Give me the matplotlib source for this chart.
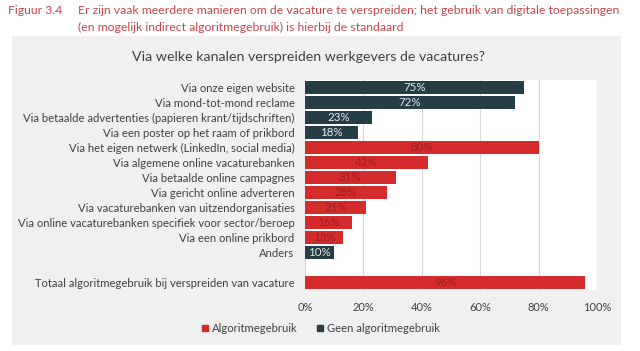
import matplotlib
matplotlib.use("Agg")
import matplotlib.pyplot as plt
from matplotlib.patches import Rectangle
from matplotlib.lines import Line2D

plt.rcParams['font.family'] = ['Lato', 'DejaVu Sans']

categories = [
    "Via onze eigen website",
    "Via mond-tot-mond reclame",
    "Via betaalde advertenties (papieren krant/tijdschriften)",
    "Via een poster op het raam of prikbord",
    "Via het eigen netwerk (LinkedIn, social media)",
    "Via algemene online vacaturebanken",
    "Via betaalde online campagnes",
    "Via gericht online adverteren",
    "Via vacaturebanken van uitzendorganisaties",
    "Via online vacaturebanken specifiek voor sector/beroep",
    "Via een online prikbord",
    "Anders",
    "",
    "Totaal algoritmegebruik bij verspreiden van vacature",
]
values = [75, 72, 23, 18, 80, 42, 31, 28, 21, 16, 13, 10, None, 96]
algo = [False, False, False, False, True, True, True, True, True, True, True, False, None, True]
xticks = [0, 20, 40, 60, 80, 100]
legend_labels = ["Algoritmegebruik", "Geen algoritmegebruik"]

RED = "#d42b2c"
DARK = "#253d45"
W, H = 640, 351
fig = plt.figure(figsize=(6.4, 3.51), dpi=100)
fig.patch.set_facecolor("white")

# grey panel
fig.patches.append(Rectangle((12 / W, 1 - 345 / H), (621 - 12) / W, (345 - 36) / H,
                             transform=fig.transFigure, facecolor="#f0f0f0",
                             edgecolor="none", zorder=-5))

# header
hc = "#c9464b"
fig.text(8 / W, 1 - 11 / H, "Figuur 3.4", color=hc, fontsize=8.8, va="center", ha="left")
fig.text(78 / W, 1 - 11 / H,
         "Er zijn vaak meerdere manieren om de vacature te verspreiden; het gebruik van digitale toepassingen",
         color=hc, fontsize=8.8, va="center", ha="left")
fig.text(78 / W, 1 - 27 / H, "(en mogelijk indirect algoritmegebruik) is hierbij de standaard",
         color=hc, fontsize=8.8, va="center", ha="left")
fig.text(309 / W, 1 - 57 / H, "Via welke kanalen verspreiden werkgevers de vacatures?",
         color="#404040", fontsize=10.2, va="center", ha="center")

ax = fig.add_axes([305 / W, 1 - 290 / H, (597 - 305) / W, (290 - 80) / H])
ax.set_facecolor("white")
n = len(categories)
ys = list(range(n))
for y, v, a in zip(ys, values, algo):
    if v is None:
        continue
    c = RED if a else DARK
    ax.barh(y, v, height=0.85, color=c, zorder=3)
    tc = "#9b1f22" if a else "#e4eaec"
    ax.text(v / 2, y, f"{v}%", ha="center", va="center", fontsize=8.3, color=tc, zorder=4)

ax.set_xlim(0, 100)
ax.set_ylim(n - 0.5, -0.5)
ax.set_yticks(ys)
ax.set_yticklabels(categories, fontsize=8.1, color="#404040")
ax.set_xticks(xticks)
ax.set_xticklabels([f"{t}%" for t in xticks], fontsize=8.0, color="#404040")
ax.tick_params(length=0, pad=7.5)
ax.tick_params(axis="x", pad=8.5)
ax.grid(axis="x", color="#d9d9d9", linewidth=0.8, zorder=0)
for s in ax.spines.values():
    s.set_visible(False)

handles = [Line2D([], [], marker="s", linestyle="none", color=RED, markersize=4.5),
           Line2D([], [], marker="s", linestyle="none", color=DARK, markersize=4.5)]
leg = fig.legend(handles, legend_labels, loc="center", bbox_to_anchor=(320 / W, 1 - 328 / H),
                 ncol=2, frameon=False, fontsize=8.1, handletextpad=0.1, columnspacing=1.5,
                 handlelength=1.0, labelcolor="#404040")

fig.savefig("out.png", dpi=100, facecolor=fig.get_facecolor())
